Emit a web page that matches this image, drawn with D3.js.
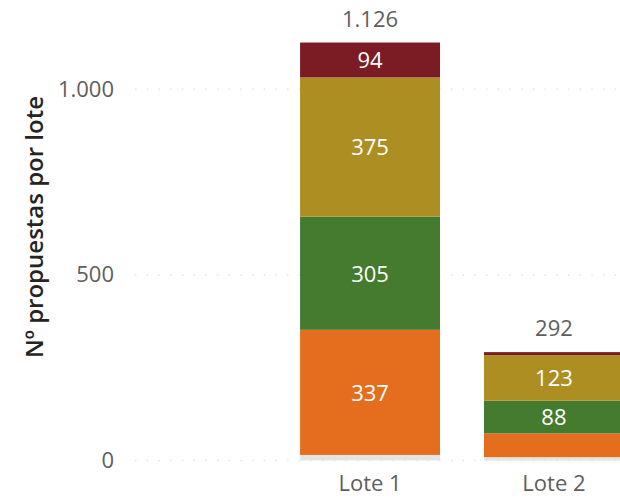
<!DOCTYPE html>
<html><head><meta charset="utf-8">
<script src="https://cdn.jsdelivr.net/npm/d3@7"></script>
<style>
html,body{margin:0;padding:0;background:#fff;}
svg{display:block;font-family:"Open Sans","Segoe UI",sans-serif;}
</style></head>
<body>
<svg id="chart" width="620" height="499"></svg>
<script>
// ---- data ----
const categories = ["Lote 1", "Lote 2"];
const seriesNames = ["Sin clasificar", "Grupo A", "Grupo B", "Grupo C", "Grupo D"];
const seriesColors = ["#E4E4E4", "#E46E1D", "#447B2E", "#AD8E22", "#7B1C24"];
const lote1Values = [15, 337, 305, 375, 94];
const lote2Values = [9, 64, 88, 123, 8];
const yTicks = [0, 500, 1000];
const yTitle = "Nº propuestas por lote";

const valuesByCat = [lote1Values, lote2Values];
const rows = categories.map((c, i) => {
  const r = {cat: c};
  seriesNames.forEach((s, j) => r[s] = valuesByCat[i][j]);
  return r;
});

const loc = d3.formatLocale({decimal: ",", thousands: ".", grouping: [3], currency: ["", "€"]});
const fmt = loc.format(",d");

const svg = d3.select("#chart");
const plotLeft = 135, plotRight = 620;
const FS = 22;

const y = d3.scaleLinear().domain([0, 1000]).range([460.5, 89.3]);
const x = d3.scaleBand().domain(categories).range([278, 646]).paddingInner(0.239).paddingOuter(0.12);

// gridlines
svg.append("g").selectAll("line").data(yTicks).join("line")
  .attr("x1", plotLeft).attr("x2", plotRight)
  .attr("y1", d => y(d)).attr("y2", d => y(d))
  .attr("stroke", "#E2E2EC").attr("stroke-width", 1.5)
  .attr("stroke-dasharray", "1.5,10.2");

// y axis
const yAxis = d3.axisLeft(y).tickValues(yTicks).tickFormat(fmt).tickSize(0).tickPadding(0);
const gy = svg.append("g").attr("transform", "translate(114,0)").call(yAxis);
gy.select(".domain").remove();
gy.selectAll("text").attr("fill", "#605E5C").attr("font-size", FS).attr("font-family", "'Open Sans',sans-serif");

// y title
svg.append("text")
  .attr("transform", "translate(33,227) rotate(-90)")
  .attr("text-anchor", "middle")
  .attr("dominant-baseline", "central")
  .attr("font-size", 24).attr("font-weight", 600)
  .attr("fill", "#252423")
  .text(yTitle);

// x axis
const xAxis = d3.axisBottom(x).tickSize(0).tickPadding(0);
const gx = svg.append("g").attr("transform", "translate(0,475)").call(xAxis);
gx.select(".domain").remove();
gx.selectAll("text").attr("fill", "#605E5C").attr("font-size", FS).attr("font-family", "'Open Sans',sans-serif");

// stacked bars
const stack = d3.stack().keys(seriesNames)(rows);
const layers = svg.append("g").selectAll("g").data(stack).join("g")
  .attr("fill", (d, i) => seriesColors[i]);
layers.selectAll("rect").data(d => d).join("rect")
  .attr("x", d => x(d.data.cat))
  .attr("width", x.bandwidth())
  .attr("y", d => y(d[1]))
  .attr("height", d => y(d[0]) - y(d[1]));

// segment labels
const labels = svg.append("g");
stack.forEach((layer, i) => {
  layer.forEach(d => {
    const h = y(d[0]) - y(d[1]);
    const v = d[1] - d[0];
    if (i > 0 && h >= 28) {
      labels.append("text")
        .attr("x", x(d.data.cat) + x.bandwidth() / 2)
        .attr("y", (y(d[0]) + y(d[1])) / 2)
        .attr("dy", "0.38em")
        .attr("text-anchor", "middle")
        .attr("fill", "#FFFFFF").attr("font-size", FS)
        .text(fmt(v));
    }
  });
});

// totals
svg.append("g").selectAll("text").data(rows).join("text")
  .attr("x", d => x(d.cat) + x.bandwidth() / 2)
  .attr("y", d => y(d3.sum(seriesNames, s => d[s])) - 16)
  .attr("text-anchor", "middle")
  .attr("fill", "#605E5C").attr("font-size", FS)
  .text(d => fmt(d3.sum(seriesNames, s => d[s])));
</script>
</body></html>
